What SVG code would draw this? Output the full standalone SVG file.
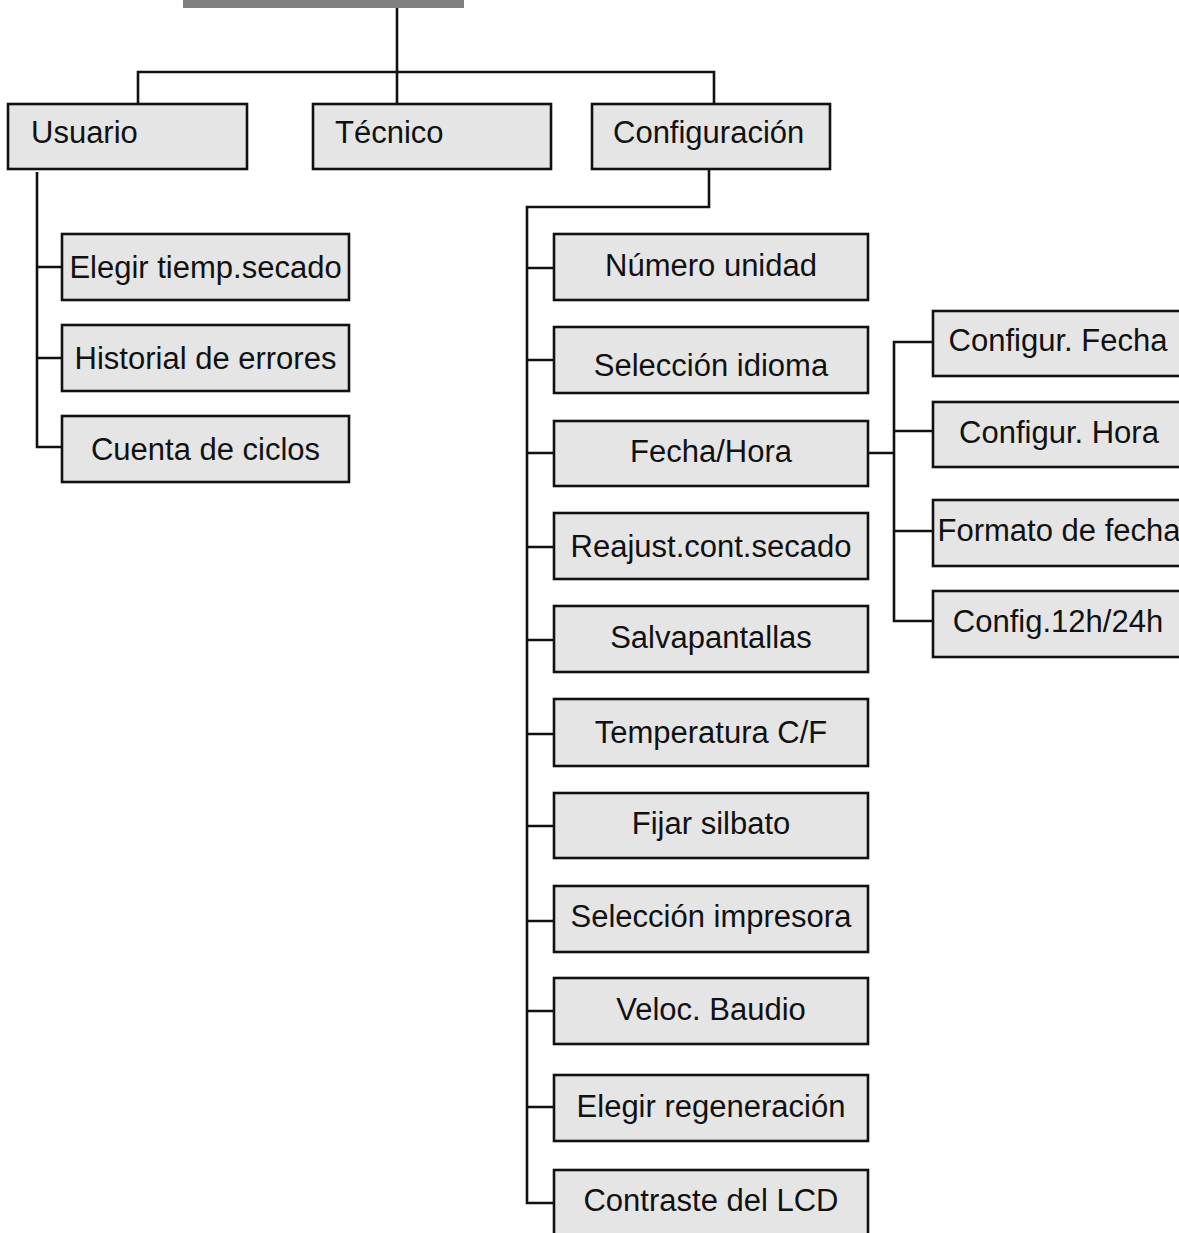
<svg xmlns="http://www.w3.org/2000/svg" width="1179" height="1233" viewBox="0 0 1179 1233">
<style>
.box{fill:#e5e5e5;stroke:#111;stroke-width:2.6}
.t{font-family:"Liberation Sans",Arial,Helvetica,sans-serif;font-size:31px;fill:#111}
.c{text-anchor:middle}
.ln{fill:none;stroke:#111;stroke-width:2.6}
</style>
<rect id="root" x="183" y="-2" width="281" height="10" fill="#808080"/>
<g id="connectors" class="ln">
<path d="M397 8V104M138 104V72H714V104"/>
<path d="M37 172V447H62M37 267H62M37 358H62"/>
<path d="M709 169V207H527V1203H554M527 268H554M527 360H554M527 453H554M527 547H554M527 640H554M527 734H554M527 826H554M527 921H554M527 1011H554M527 1107H554"/>
<path d="M868 453H894M933 342H894V621H933M894 431H933M894 531H933"/>
</g>
<g id="usuario"><rect class="box" x="8" y="104" width="239" height="65"/><text class="t" x="31" y="143">Usuario</text></g>
<g id="tecnico"><rect class="box" x="313" y="104" width="238" height="65"/><text class="t" x="335" y="143">Técnico</text></g>
<g id="configuracion"><rect class="box" x="592" y="104" width="238" height="65"/><text class="t" x="613" y="143">Configuración</text></g>
<g id="elegir-tiempo"><rect class="box" x="62" y="234" width="287" height="66"/><text class="t c" x="205.5" y="278">Elegir tiemp.secado</text></g>
<g id="historial"><rect class="box" x="62" y="325" width="287" height="66"/><text class="t c" x="205.5" y="369">Historial de errores</text></g>
<g id="cuenta"><rect class="box" x="62" y="416" width="287" height="66"/><text class="t c" x="205.5" y="460">Cuenta de ciclos</text></g>
<g id="numero"><rect class="box" x="554" y="234" width="314" height="66"/><text class="t c" x="711" y="276">Número unidad</text></g>
<g id="idioma"><rect class="box" x="554" y="327" width="314" height="66"/><text class="t c" x="711" y="376">Selección idioma</text></g>
<g id="fechahora"><rect class="box" x="554" y="421" width="314" height="65"/><text class="t c" x="711" y="462">Fecha/Hora</text></g>
<g id="reajust"><rect class="box" x="554" y="513" width="314" height="66"/><text class="t c" x="711" y="557">Reajust.cont.secado</text></g>
<g id="salva"><rect class="box" x="554" y="606" width="314" height="66"/><text class="t c" x="711" y="648">Salvapantallas</text></g>
<g id="temp"><rect class="box" x="554" y="699" width="314" height="67"/><text class="t c" x="711" y="743">Temperatura C/F</text></g>
<g id="silbato"><rect class="box" x="554" y="793" width="314" height="65"/><text class="t c" x="711" y="834">Fijar silbato</text></g>
<g id="impresora"><rect class="box" x="554" y="886" width="314" height="66"/><text class="t c" x="711" y="927">Selección impresora</text></g>
<g id="baudio"><rect class="box" x="554" y="978" width="314" height="66"/><text class="t c" x="711" y="1020">Veloc. Baudio</text></g>
<g id="regeneracion"><rect class="box" x="554" y="1075" width="314" height="66"/><text class="t c" x="711" y="1117">Elegir regeneración</text></g>
<g id="contraste"><rect class="box" x="554" y="1170" width="314" height="70"/><text class="t c" x="711" y="1211">Contraste del LCD</text></g>
<g id="cfg-fecha"><rect class="box" x="933" y="311" width="252" height="65"/><text class="t c" x="1058" y="351">Configur. Fecha</text></g>
<g id="cfg-hora"><rect class="box" x="933" y="402" width="252" height="65"/><text class="t c" x="1059" y="443">Configur. Hora</text></g>
<g id="formato"><rect class="box" x="933" y="500" width="252" height="66"/><text class="t c" x="1059" y="541">Formato de fecha</text></g>
<g id="cfg-12-24"><rect class="box" x="933" y="591" width="252" height="66"/><text class="t c" x="1058" y="632">Config.12h/24h</text></g>
</svg>
